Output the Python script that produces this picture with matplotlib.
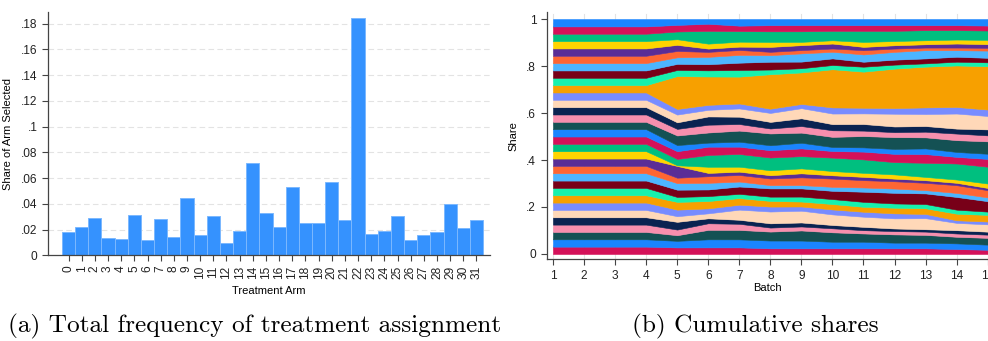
"""Two-panel figure: total share of each treatment arm (bars) and the cumulative
share of every arm by batch (stacked areas), Stata-like styling."""
import numpy as np
import matplotlib.pyplot as plt

plt.rcParams["font.family"] = ["Liberation Sans", "DejaVu Sans"]

# ---- data -------------------------------------------------------------------
arms = list(range(32))
# (a) total frequency of assignment, arm 0..31
arm_share = [0.0179, 0.0218, 0.0288, 0.0137, 0.0127, 0.0311, 0.0119, 0.0282,
             0.0140, 0.0443, 0.0161, 0.0306, 0.0096, 0.0187, 0.0715, 0.0332,
             0.0218, 0.0528, 0.0254, 0.0254, 0.0570, 0.0272, 0.1842, 0.0166,
             0.0192, 0.0306, 0.0119, 0.0155, 0.0181, 0.0399, 0.0210, 0.0277]

# (b) cumulative share of each arm (0..31) after each batch
batches = list(range(1, 16))
b01 = [1 / 32] * 32
b02 = [1 / 32] * 32
b03 = [1 / 32] * 32
b04 = [1 / 32] * 32
b05 = [0.028, 0.028, 0.024, 0.024, 0.033, 0.024, 0.028, 0.033, 0.021, 0.031, 0.028,
       0.023, 0.050, 0.003, 0.027, 0.033, 0.026, 0.041, 0.028, 0.028, 0.033, 0.024,
       0.140, 0.026, 0.026, 0.028, 0.027, 0.026, 0.024, 0.033, 0.028, 0.025]
b06 = [0.028, 0.034, 0.040, 0.028, 0.021, 0.021, 0.021, 0.031, 0.021, 0.028, 0.028,
       0.028, 0.014, 0.026, 0.050, 0.035, 0.017, 0.043, 0.033, 0.035, 0.028, 0.021,
       0.120, 0.026, 0.026, 0.031, 0.021, 0.014, 0.021, 0.054, 0.030, 0.020]
b07 = [0.028, 0.034, 0.040, 0.026, 0.017, 0.043, 0.021, 0.028, 0.018, 0.031, 0.021,
       0.028, 0.014, 0.021, 0.054, 0.031, 0.021, 0.047, 0.028, 0.031, 0.035, 0.021,
       0.114, 0.028, 0.031, 0.033, 0.021, 0.014, 0.021, 0.045, 0.023, 0.028]
b08 = [0.024, 0.033, 0.038, 0.017, 0.018, 0.050, 0.021, 0.024, 0.018, 0.035, 0.014,
       0.028, 0.014, 0.021, 0.054, 0.031, 0.021, 0.050, 0.021, 0.028, 0.038, 0.018,
       0.146, 0.020, 0.033, 0.028, 0.014, 0.021, 0.021, 0.045, 0.026, 0.026]
b09 = [0.024, 0.033, 0.043, 0.017, 0.017, 0.050, 0.018, 0.021, 0.021, 0.035, 0.014,
       0.033, 0.017, 0.021, 0.052, 0.033, 0.024, 0.043, 0.028, 0.033, 0.043, 0.018,
       0.134, 0.018, 0.028, 0.035, 0.014, 0.021, 0.014, 0.045, 0.026, 0.026]
b10 = [0.024, 0.028, 0.040, 0.017, 0.014, 0.045, 0.021, 0.023, 0.021, 0.035, 0.017,
       0.035, 0.014, 0.018, 0.057, 0.028, 0.017, 0.043, 0.028, 0.026, 0.045, 0.026,
       0.162, 0.018, 0.028, 0.028, 0.014, 0.021, 0.014, 0.040, 0.024, 0.026]
b11 = [0.024, 0.028, 0.035, 0.014, 0.014, 0.043, 0.021, 0.021, 0.021, 0.043, 0.018,
       0.031, 0.014, 0.017, 0.057, 0.033, 0.018, 0.048, 0.023, 0.028, 0.045, 0.024,
       0.153, 0.021, 0.021, 0.031, 0.018, 0.014, 0.021, 0.047, 0.024, 0.026]
b12 = [0.024, 0.024, 0.035, 0.014, 0.011, 0.043, 0.021, 0.024, 0.018, 0.045, 0.018,
       0.031, 0.011, 0.018, 0.052, 0.035, 0.021, 0.050, 0.021, 0.024, 0.054, 0.024,
       0.167, 0.017, 0.021, 0.033, 0.014, 0.014, 0.018, 0.043, 0.024, 0.026]
b13 = [0.024, 0.024, 0.033, 0.014, 0.010, 0.047, 0.018, 0.024, 0.018, 0.045, 0.014,
       0.031, 0.011, 0.014, 0.060, 0.037, 0.024, 0.047, 0.024, 0.024, 0.051, 0.028,
       0.173, 0.014, 0.021, 0.035, 0.011, 0.014, 0.017, 0.043, 0.021, 0.026]
b14 = [0.021, 0.024, 0.028, 0.014, 0.014, 0.031, 0.011, 0.028, 0.017, 0.054, 0.017,
       0.033, 0.010, 0.014, 0.068, 0.028, 0.021, 0.050, 0.028, 0.021, 0.064, 0.028,
       0.176, 0.016, 0.021, 0.028, 0.011, 0.017, 0.017, 0.040, 0.021, 0.026]
b15 = arm_share

# Stata stcolor palette, first colour goes to the top series
PALETTE = ["#1a85ff", "#d41159", "#00bf7f", "#ffd400", "#5a2d96", "#fe6633",
           "#4db5ff", "#780018", "#17f1ad", "#f7a000", "#788cff", "#ffd8b8",
           "#0a2351", "#f78fae", "#145154"]
BAR = "#3592fe"
AXC = "#444444"
GRID = "#e3e3e3"


def stata_fmt(v, _pos=None):
    if abs(v) < 1e-9:
        return "0"
    s = "%g" % round(v, 4)
    return s[1:] if s.startswith("0.") else s


def style(ax):
    for side in ("top", "right"):
        ax.spines[side].set_visible(False)
    for side in ("left", "bottom"):
        ax.spines[side].set_color(AXC)
        ax.spines[side].set_linewidth(0.9)
    ax.tick_params(colors="#222222", labelsize=8.6, length=4, width=0.8, color=AXC)


fig = plt.figure(figsize=(9.88, 3.41), dpi=100)

# ---- (a) bars ---------------------------------------------------------------
ax1 = fig.add_axes([0.0486, 0.2513, 0.4474, 0.7135])
ax1.bar(arms, arm_share, width=1.0, color=BAR, edgecolor="#7cb8ff", linewidth=0.7,
        zorder=2)
ax1.set_xlim(-1.56, 32.03)
ax1.set_ylim(0, 0.189)
yt = np.arange(0, 0.181, 0.02)
ax1.set_yticks(yt)
ax1.set_yticklabels([stata_fmt(v) for v in yt])
ax1.set_xticks(arms)
ax1.set_xticklabels([str(a) for a in arms], rotation=90)
for v in yt[1:]:
    ax1.axhline(v, color=GRID, lw=0.8, ls=(0, (5, 3)), zorder=0)
style(ax1)
ax1.set_ylabel("Share of Arm Selected", fontsize=8, labelpad=6)
ax1.set_xlabel("Treatment Arm", fontsize=8, labelpad=5)

# ---- (b) stacked cumulative shares -----------------------------------------
shares = np.array([b01, b02, b03, b04, b05, b06, b07, b08, b09, b10, b11, b12,
                   b13, b14, b15], dtype=float)
shares = shares / shares.sum(axis=1, keepdims=True)
colors = [PALETTE[(31 - a) % 15] for a in arms]

ax2 = fig.add_axes([0.5533, 0.2396, 0.4467, 0.7252])
for b in batches:
    ax2.axvline(b, color=GRID, lw=0.8, ls=(0, (5, 3)), zorder=0)
polys = ax2.stackplot(batches, shares.T, colors=colors, linewidth=0.4, zorder=2)
for p in polys:
    p.set_edgecolor(p.get_facecolor())
ax2.set_xlim(0.797, 15.01)
ax2.set_ylim(-0.0226, 1.03)
ax2.set_xticks(batches)
yt2 = np.arange(0, 1.01, 0.2)
ax2.set_yticks(yt2)
ax2.set_yticklabels([stata_fmt(v) for v in yt2])
style(ax2)
ax2.set_ylabel("Share", fontsize=8, labelpad=6)
ax2.set_xlabel("Batch", fontsize=8, labelpad=1)

# ---- captions ---------------------------------------------------------------
fig.text(0.008, 0.024, "(a) Total frequency of treatment assignment",
         family="cmr10", fontsize=18.2, va="baseline", ha="left")
fig.text(0.640, 0.024, "(b) Cumulative shares",
         family="cmr10", fontsize=18.2, va="baseline", ha="left")

fig.savefig("out.png", dpi=100)
